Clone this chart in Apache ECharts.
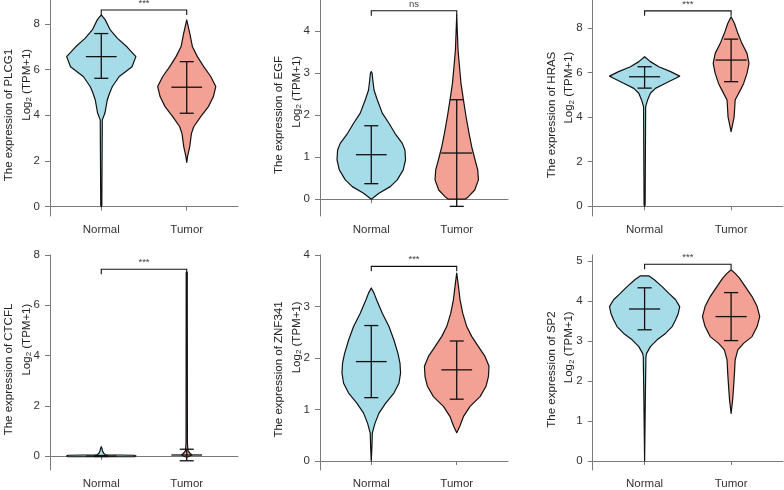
<!DOCTYPE html>
<html><head><meta charset="utf-8">
<script src="https://cdn.jsdelivr.net/npm/echarts@6/dist/echarts.min.js"></script>
<style>html,body{margin:0;padding:0;background:#fff}#c{width:784px;height:490px}</style>
</head><body><div id="c"></div>
<script>
// ---------------- DATA ----------------
const categories = ['Normal', 'Tumor'];
const genes = ['PLCG1', 'EGF', 'HRAS', 'CTCFL', 'ZNF341', 'SP2'];
const sigLabels = ['***', 'ns', '***', '***', '***', '***'];
const bracketLevels = [8.61, 4.49, 8.77, 7.43, 3.78, 4.92];

const yTickValues = [[0,2,4,6,8],[0,1,2,3,4],[0,2,4,6,8],[0,2,4,6,8],[0,1,2,3,4],[0,1,2,3,4,5]];
const yAxisMin = [-0.41, -0.40, -0.44, -0.557, -0.175, -0.225];
const yAxisMax = [9.05, 4.745, 9.256, 8, 4, 5.15];

// violin density profiles: [value, half-width in category units]
const plcg1Normal = [[0,0],[0.05,0.006],[3.8,0.012],[4.1,0.043],[4.67,0.07],[5.0,0.1],[5.26,0.13],[5.7,0.21],[5.9,0.28],[6.13,0.36],[6.57,0.405],[7.0,0.30],[7.37,0.19],[7.74,0.105],[8.18,0.047],[8.4,0]];
const plcg1Tumor = [[1.94,0],[2.2,0.01],[2.63,0.035],[3.2,0.055],[3.5,0.082],[3.94,0.164],[4.38,0.254],[4.82,0.312],[5.26,0.340],[5.7,0.281],[6.13,0.199],[6.57,0.125],[7.0,0.067],[7.6,0.035],[8.18,0]];
const egfNormal = [[0,0],[0.14,0.09],[0.3,0.222],[0.46,0.304],[0.7,0.374],[0.94,0.401],[1.17,0.394],[1.33,0.363],[1.57,0.277],[1.81,0.207],[2.05,0.129],[2.37,0.07],[2.6,0.032],[2.84,0.018],[3.0,0.01],[3.04,0]];
const egfTumor = [[0,0.097],[0.06,0.137],[0.22,0.211],[0.46,0.254],[0.7,0.246],[0.94,0.214],[1.25,0.175],[1.57,0.144],[1.97,0.109],[2.37,0.078],[2.76,0.05],[3.16,0.032],[3.56,0.015],[3.95,0.008],[4.39,0]];
const hrasNormal = [[0,0],[0.05,0.006],[4.47,0.012],[4.77,0.035],[5.07,0.067],[5.29,0.125],[5.52,0.242],[5.74,0.359],[5.84,0.406],[6.04,0.301],[6.26,0.164],[6.49,0.067],[6.71,0]];
const hrasTumor = [[3.35,0],[4.0,0.035],[4.77,0.047],[5.2,0.105],[5.5,0.144],[5.96,0.184],[6.41,0.207],[6.86,0.184],[7.31,0.125],[7.76,0.078],[8.2,0.039],[8.5,0]];
const ctcflNormal = [[-0.03,0.39],[0,0.406],[0.03,0.39],[0.05,0.05],[0.1,0.03],[0.2,0.015],[0.3,0.008],[0.37,0]];
const ctcflTumor = [[-0.05,0],[0,0.04],[0.05,0.06],[0.1,0.04],[0.2,0.015],[0.5,0.008],[7.3,0.006],[7.33,0]];
const znf341Normal = [[0,0],[0.3,0.008],[0.54,0.012],[0.73,0.043],[0.93,0.09],[1.12,0.167],[1.32,0.265],[1.51,0.324],[1.71,0.343],[1.9,0.336],[2.09,0.312],[2.35,0.265],[2.61,0.207],[2.87,0.129],[3.13,0.062],[3.26,0.032],[3.36,0]];
const znf341Tumor = [[0.55,0],[0.67,0.035],[0.86,0.078],[1.06,0.156],[1.25,0.273],[1.45,0.343],[1.64,0.371],[1.84,0.378],[2.03,0.331],[2.22,0.254],[2.42,0.175],[2.61,0.117],[2.87,0.07],[3.13,0.039],[3.39,0.02],[3.65,0]];
const sp2Normal = [[0,0],[1.5,0.008],[2.6,0.015],[2.69,0.023],[2.86,0.067],[3.03,0.144],[3.19,0.242],[3.36,0.319],[3.53,0.359],[3.69,0.389],[3.86,0.406],[4.03,0.359],[4.19,0.281],[4.36,0.202],[4.53,0.113],[4.63,0.047]];
const sp2Tumor = [[1.19,0],[1.53,0.018],[1.86,0.029],[2.19,0.039],[2.53,0.047],[2.78,0.078],[2.94,0.144],[3.11,0.242],[3.36,0.301],[3.61,0.331],[3.86,0.301],[4.11,0.242],[4.36,0.164],[4.57,0.097],[4.69,0.047],[4.78,0]];

// mean, lower, upper (mean ± sd) per category
const plcg1Stats = [[6.57,5.62,7.58],[5.23,4.09,6.35]];
const egfStats = [[1.06,0.37,1.75],[1.10,-0.17,2.37]];
const hrasStats = [[5.81,5.30,6.26],[6.56,5.59,7.50]];
const ctcflStats = [[0.0,-0.02,0.02],[0.04,-0.19,0.27]];
const znf341Stats = [[1.93,1.23,2.63],[1.77,1.20,2.33]];
const sp2Stats = [[3.80,3.28,4.33],[3.61,3.01,4.21]];

const violinProfiles = [[plcg1Normal,plcg1Tumor],[egfNormal,egfTumor],[hrasNormal,hrasTumor],[ctcflNormal,ctcflTumor],[znf341Normal,znf341Tumor],[sp2Normal,sp2Tumor]];
const violinStats = [plcg1Stats, egfStats, hrasStats, ctcflStats, znf341Stats, sp2Stats];

// ---------------- STYLE / LAYOUT ----------------
const FONT = '"Liberation Sans", Arial, Helvetica, sans-serif';
const fillColors = ['#a6dbe8', '#f2a194'];
const gridBoxes = [
  {left:50, top:0, width:188, height:216},
  {left:320, top:0, width:188, height:216},
  {left:592.7, top:0, width:190.3, height:216},
  {left:50, top:255, width:188, height:215},
  {left:320, top:255, width:188, height:215},
  {left:592.7, top:255, width:190.3, height:215}
];
const MEAN_HALF = 0.18, CAP_HALF = 0.082, BRACKET_TICK = 5;
const TITLE_SIZE = 11.5;

const ctx = document.createElement('canvas').getContext('2d');
function textW(s, size) { ctx.font = size + 'px ' + FONT; return ctx.measureText(s).width; }

const chart = echarts.init(document.getElementById('c'), null, {renderer: 'canvas'});
const grid = [], xAxis = [], yAxis = [], series = [];
const axisLineStyle = {color: '#7a7a7a', width: 1};

genes.forEach((gene, g) => {
  grid.push(Object.assign({containLabel: false}, gridBoxes[g]));
  xAxis.push({
    type: 'value', gridIndex: g, min: 0.4, max: 2.6,
    splitLine: {show: false},
    axisLine: {show: true, lineStyle: axisLineStyle},
    axisTick: {show: true, length: 4, lineStyle: axisLineStyle, customValues: [1, 2]},
    axisLabel: {show: true, customValues: [1, 2], margin: 8, fontSize: 11.5, color: '#333', fontFamily: FONT,
      formatter: v => categories[Math.round(v) - 1]}
  });
  const line1 = 'The expression of ' + gene;
  const w1 = textW(line1, TITLE_SIZE);
  const w2 = textW('Log', TITLE_SIZE) + textW('2', 8) + textW(' (TPM+1)', TITLE_SIZE);
  const d2 = 7 - (w1 - w2) / 2;
  yAxis.push({
    type: 'value', gridIndex: g, position: 'left', min: yAxisMin[g], max: yAxisMax[g],
    splitLine: {show: false},
    axisLine: {show: true, lineStyle: axisLineStyle},
    axisTick: {show: true, length: 5, lineStyle: axisLineStyle, customValues: yTickValues[g]},
    axisLabel: {show: true, customValues: yTickValues[g], margin: 10, fontSize: 11.5, color: '#333', fontFamily: FONT},
    name: line1, nameLocation: 'middle', nameGap: 35,
    nameTextStyle: {fontSize: TITLE_SIZE, color: '#222', fontFamily: FONT, padding: [0, 14, 0, 0]}
  });
  yAxis.push({
    type: 'value', gridIndex: g, position: 'left', offset: 0, min: yAxisMin[g], max: yAxisMax[g],
    splitLine: {show: false}, axisLine: {show: false}, axisTick: {show: false}, axisLabel: {show: false},
    name: '{n|Log}{s|2}{n| (TPM+1)}', nameLocation: 'middle', nameGap: 17,
    nameTextStyle: {
      fontFamily: FONT, color: '#222',
      padding: d2 >= 0 ? [0, 2 * d2, 0, 0] : [0, 0, 0, -2 * d2],
      rich: {
        n: {fontSize: TITLE_SIZE, color: '#222', fontFamily: FONT},
        s: {fontSize: 8, color: '#222', fontFamily: FONT, padding: [5, 0, 0, 0]}
      }
    }
  });

  // violins + mean/sd crossbars
  series.push({
    type: 'custom', xAxisIndex: g, yAxisIndex: 2 * g, silent: true, clip: false,
    data: categories.map((c, i) => [i + 1, i]),
    renderItem: (params, api) => {
      const xc = api.value(0), ci = api.value(1);
      const prof = violinProfiles[g][ci];
      const st = violinStats[g][ci];
      const pts = prof.map(p => api.coord([xc - p[1], p[0]]))
        .concat(prof.slice().reverse().map(p => api.coord([xc + p[1], p[0]])));
      const seg = (xa, ya, xb, yb) => {
        const a = api.coord([xa, ya]), b = api.coord([xb, yb]);
        return {type: 'line', shape: {x1: a[0], y1: a[1], x2: b[0], y2: b[1]}, style: {stroke: '#111', lineWidth: 1.3}};
      };
      return {type: 'group', children: [
        {type: 'polygon', shape: {points: pts}, style: {fill: fillColors[ci], stroke: '#111', lineWidth: 1.2, lineJoin: 'round'}},
        seg(xc, st[1], xc, st[2]),
        seg(xc - MEAN_HALF, st[0], xc + MEAN_HALF, st[0]),
        seg(xc - CAP_HALF, st[1], xc + CAP_HALF, st[1]),
        seg(xc - CAP_HALF, st[2], xc + CAP_HALF, st[2])
      ]};
    }
  });

  // significance bracket
  series.push({
    type: 'custom', xAxisIndex: g, yAxisIndex: 2 * g, silent: true, clip: false,
    data: [[bracketLevels[g], g]],
    renderItem: (params, api) => {
      const yv = api.value(0);
      const a = api.coord([1, yv]), b = api.coord([2, yv]);
      return {type: 'group', children: [
        {type: 'polyline', shape: {points: [[a[0], a[1] + BRACKET_TICK], [a[0], a[1]], [b[0], b[1]], [b[0], b[1] + BRACKET_TICK]]},
         style: {stroke: '#111', lineWidth: 1.1, fill: null}},
        {type: 'text', x: (a[0] + b[0]) / 2, y: a[1] - 1.5,
         style: {text: sigLabels[g], fontSize: 9.5, fill: '#444', fontFamily: FONT, align: 'center', verticalAlign: 'bottom'}}
      ]};
    }
  });
});

chart.setOption({animation: false, backgroundColor: '#fff', grid, xAxis, yAxis, series});
</script></body></html>
